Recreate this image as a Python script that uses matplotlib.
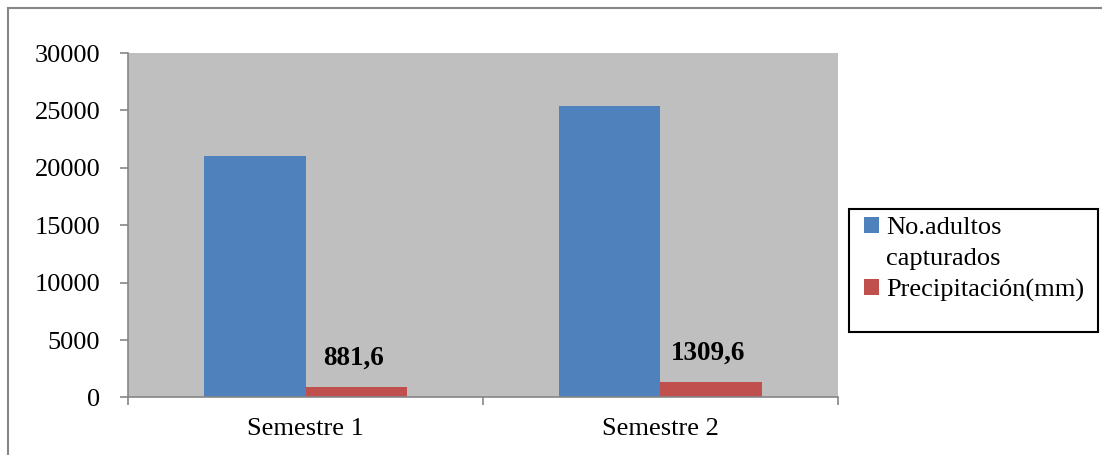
import matplotlib.pyplot as plt
import numpy as np
from matplotlib.lines import Line2D
from matplotlib.patches import Patch, Rectangle

plt.rcParams['font.family'] = ['Liberation Serif', 'DejaVu Serif']

semestres = ["Semestre 1", "Semestre 2"]
adultos = [21000, 25400]
precipitacion = [881.6, 1309.6]
etiquetas = ["881,6", "1309,6"]

azul = "#4F81BD"
rojo = "#C0504D"
gris = "#868686"
W, H = 1102, 455

fig = plt.figure(figsize=(W / 100, H / 100), dpi=100)
ax = fig.add_axes([0.1162, 0.1264, 0.6442, 0.7571])
ax.set_facecolor("#BFBFBF")

x = np.arange(len(semestres))
w = 1 / 3.5
b1 = ax.bar(x - w / 2, adultos, w, color=azul)
b2 = ax.bar(x + w / 2, precipitacion, w, color=rojo)

for rect, txt in zip(b2, etiquetas):
    ax.annotate(txt, (rect.get_x() + rect.get_width() / 2, rect.get_height()),
                xytext=(-2, 12), textcoords="offset points",
                ha="center", va="bottom", fontsize=19.5, fontweight="bold")

ax.set_xlim(-0.5, 1.5)
ax.set_ylim(0, 30000)
ax.set_yticks(range(0, 30001, 5000))
ax.set_xticks([-0.5, 0.5, 1.5])
ax.set_xticklabels([])
ax.set_xticks(x, minor=True)
ax.set_xticklabels(semestres, minor=True)
ax.tick_params(axis="x", which="major", length=6, color=gris, width=1.2)
ax.tick_params(axis="x", which="minor", length=0, pad=15, labelsize=19)
ax.tick_params(axis="y", length=6, color=gris, width=1.2, pad=14, labelsize=19)

for s in ["top", "right"]:
    ax.spines[s].set_visible(False)
for s in ["left", "bottom"]:
    ax.spines[s].set_color(gris)
    ax.spines[s].set_linewidth(1.2)

# leyenda: la segunda línea del primer rótulo va como entrada sin marcador
vacio = Patch(visible=False)
leg = fig.legend(handles=[b1, vacio, b2],
                 labels=["No.adultos", "capturados", "Precipitación(mm)"],
                 loc="upper left", bbox_to_anchor=(864 / W, 1 - 217 / H),
                 fontsize=19, frameon=False,
                 handlelength=0.55, handleheight=0.55, handletextpad=0.3,
                 borderaxespad=0, borderpad=0, labelspacing=0.33)
fig.add_artist(Rectangle((849 / W, 1 - 332 / H), 249 / W, 123 / H,
                         transform=fig.transFigure, fill=False,
                         edgecolor="black", lw=1.5))

# marco exterior del gráfico
fig.add_artist(Line2D([8 / W, 8 / W], [0, 1 - 8 / H], color=gris, lw=1.5))
fig.add_artist(Line2D([8 / W, 1], [1 - 8 / H, 1 - 8 / H], color=gris, lw=1.5))

fig.savefig("out.png", dpi=100)
